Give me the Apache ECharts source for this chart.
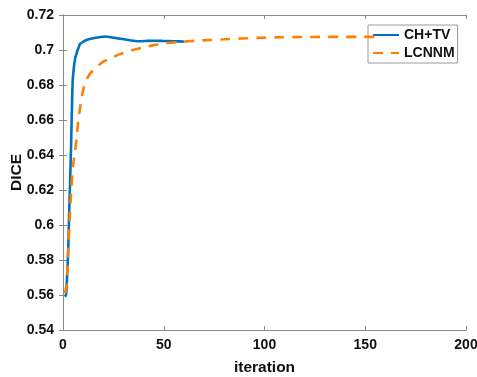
<!DOCTYPE html>
<html>
<head>
<meta charset="utf-8">
<script src="https://cdn.jsdelivr.net/npm/echarts@6/dist/echarts.min.js"></script>
<style>html,body{margin:0;padding:0;background:#fff}#c{width:477px;height:377px}</style>
</head>
<body>
<div id="c"></div>
<script>
const seriesNames = ['CH+TV', 'LCNNM'];
const xTicks = [0, 50, 100, 150, 200];
const yTicks = [0.54, 0.56, 0.58, 0.6, 0.62, 0.64, 0.66, 0.68, 0.7, 0.72];

const iterCHTV = [1, 1.5, 2, 2.6, 3, 3.5, 4, 4.4, 4.8, 5.4, 6, 7, 7.6, 8.5, 10, 12, 15, 18, 21, 24, 28, 31, 35, 38, 42, 46, 50, 55, 60];
const diceCHTV = [0.559, 0.560, 0.570, 0.586, 0.605, 0.624, 0.645, 0.665, 0.682, 0.690, 0.695, 0.699, 0.701, 0.7035, 0.7047, 0.7058, 0.7067, 0.7073, 0.7077, 0.7072, 0.7065, 0.7060, 0.7053, 0.7050, 0.7052, 0.7053, 0.7051, 0.7050, 0.7048];

const iterLCNNM = [1, 1.8, 2.6, 3.3, 4, 5, 6, 7, 7.6, 8.5, 9.3, 10, 11.7, 13.5, 16, 20, 25, 28, 34, 40, 45, 52, 59, 65, 71, 80, 89, 98, 108, 118, 127, 137, 146, 155];
const diceLCNNM = [0.561, 0.567, 0.586, 0.603, 0.618, 0.634, 0.642, 0.653, 0.660, 0.667, 0.673, 0.677, 0.683, 0.6865, 0.6895, 0.6933, 0.6960, 0.6975, 0.6998, 0.7015, 0.7028, 0.7040, 0.7047, 0.7052, 0.7056, 0.7061, 0.7066, 0.7070, 0.7073, 0.7074, 0.7075, 0.7075, 0.7075, 0.7075];

const pairs = (xs, ys) => xs.map((x, i) => [x, ys[i]]);
const axisGray = '#8a8a8a';
const font = 'Liberation Sans, Arial, sans-serif';

const chart = echarts.init(document.getElementById('c'), null, {renderer: 'canvas'});
const xBase = {
  type: 'value', min: xTicks[0], max: xTicks[xTicks.length - 1], interval: 50,
  axisLine: {show: true, lineStyle: {color: axisGray, width: 1}},
  axisTick: {show: true, inside: true, length: 4, lineStyle: {color: axisGray}},
  splitLine: {show: false}
};
const yBase = {
  type: 'value', min: yTicks[0], max: yTicks[yTicks.length - 1], interval: 0.02,
  axisLine: {show: true, lineStyle: {color: axisGray, width: 1}},
  axisTick: {show: true, inside: true, length: 4, lineStyle: {color: axisGray}},
  splitLine: {show: false}
};
chart.setOption({
  animation: false,
  backgroundColor: '#fff',
  grid: {left: 63, top: 15, right: 11, bottom: 47, containLabel: false, outerBoundsMode: 'none'},
  legend: {
    orient: 'vertical', left: 368, top: 25,
    padding: [3, 3, 3, 4], itemGap: 4, itemWidth: 26, itemHeight: 14,
    backgroundColor: '#fff', borderColor: '#9a9a9a', borderWidth: 1,
    itemStyle: {opacity: 0},
    textStyle: {fontFamily: font, fontWeight: 'bold', fontSize: 14, color: '#111'},
    data: seriesNames
  },
  xAxis: [
    Object.assign({}, xBase, {
      position: 'bottom', name: 'iteration', nameLocation: 'middle', nameGap: 30, nameMoveOverlap: false,
      nameTextStyle: {fontFamily: font, fontWeight: 'bold', fontSize: 15.5, color: '#111'},
      axisLabel: {fontFamily: font, fontWeight: 'bold', fontSize: 14, color: '#111', margin: 8}
    }),
    Object.assign({}, xBase, {position: 'top', axisLabel: {show: false}})
  ],
  yAxis: [
    Object.assign({}, yBase, {
      position: 'left', name: 'DICE', nameLocation: 'middle', nameGap: 38, nameMoveOverlap: false,
      nameTextStyle: {fontFamily: font, fontWeight: 'bold', fontSize: 15.5, color: '#111'},
      axisLabel: {fontFamily: font, fontWeight: 'bold', fontSize: 14, color: '#111', margin: 9,
        formatter: v => String(Math.round(v * 100) / 100)}
    }),
    Object.assign({}, yBase, {position: 'right', axisLabel: {show: false}})
  ],
  series: [
    {
      name: seriesNames[0], type: 'line', data: pairs(iterCHTV, diceCHTV),
      xAxisIndex: 0, yAxisIndex: 0, showSymbol: false, symbol: 'none', smooth: 0.3,
      lineStyle: {color: '#0072BD', width: 2.6}, itemStyle: {color: '#0072BD'}, z: 3
    },
    {
      name: seriesNames[1], type: 'line', data: pairs(iterLCNNM, diceLCNNM),
      xAxisIndex: 0, yAxisIndex: 0, showSymbol: false, symbol: 'none', smooth: 0.3,
      lineStyle: {color: '#FF8000', width: 2.6, type: [10, 8]}, itemStyle: {color: '#FF8000'}, z: 4
    }
  ]
});
</script>
</body>
</html>
